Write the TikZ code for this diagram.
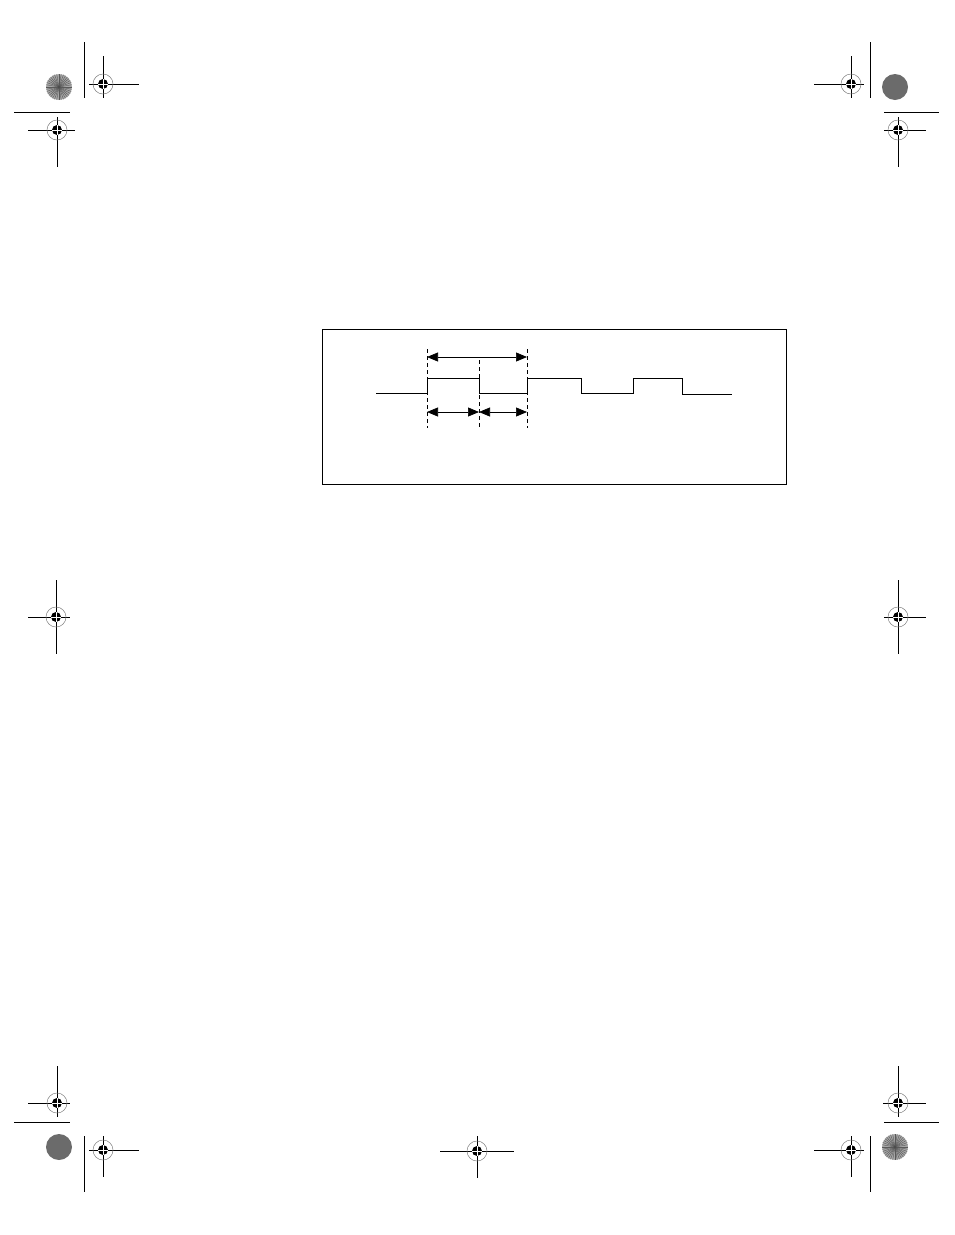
\documentclass[tikz,border=0pt]{standalone}
\usetikzlibrary{arrows.meta}
\begin{document}
\begin{tikzpicture}[x=1pt,y=-1pt,
  regline/.style={line width=0.8pt},
  guide/.style={line width=0.6pt,dash pattern=on 4pt off 3pt},
  pulse/.style={line width=1pt},
  dimline/.style={line width=0.7pt,{Triangle[length=11pt,width=9pt]}-{Triangle[length=11pt,width=9pt]}}]

\useasboundingbox (0,0) rectangle (954,1235);

% register targets
\foreach \x/\y/\l/\r/\t/\b in {103/84/89/139/56/98, 57/130/28/75/117/167,
  851/84/814/864/56/98, 898/130/884/926/117/167,
  56/617/28/70/580/654, 898/617/884/926/580/654,
  57/1103/28/70/1066/1117, 103/1150/89/139/1136/1177,
  477/1151/440/514/1136/1178, 898/1103/883/926/1066/1117,
  851/1150/814/864/1136/1177}
{
    \draw[regline] (\l,\y) -- (\r,\y);
    \draw[regline] (\x,\t) -- (\x,\b);
    \draw[gray,line width=0.5pt] (\x,\y) circle (10);
    \fill (\x,\y) circle (5);
    \draw[white,line width=0.6pt] (\x-5,\y) -- (\x+5,\y) (\x,\y-5) -- (\x,\y+5);
}

% crop lines
\foreach \a/\b/\c/\d in {84/42/84/98, 14/112/70/112, 870/42/870/98, 884/112/939/112,
  14/1122/70/1122, 84/1136/84/1192, 884/1122/939/1122, 870/1136/870/1192}
{
    \draw[regline] (\a,\b) -- (\c,\d);
}

% star targets
\foreach \x/\y in {59/87, 895/1147}
{
    \fill[black!35] (\x,\y) circle (13);
    \foreach \ang in {0,10,...,350}
        \draw[black!65,line width=0.4pt] (\x,\y) -- ++(\ang:13);
    \fill[black!70] (\x,\y) circle (1.5);
}

% gray targets
\foreach \x/\y in {895/87, 59/1147}
{
    \fill[black!58] (\x,\y) circle (13);
}

% figure frame
\draw[line width=0.8pt] (322,329) rectangle (786,484);

% pulse train
\draw[pulse] (376,393) -- (427,393) -- (427,378) -- (479,378) -- (479,393)
  -- (527,393) -- (527,378) -- (581,378) -- (581,393) -- (633,393)
  -- (633,378) -- (682,378) -- (682,394) -- (732,394);

% guides
\foreach \gx/\gy in {427/349, 479/360, 527/349}
{
    \draw[guide] (\gx,\gy) -- (\gx,428);
}

\coordinate (P0) at (427,357);
\coordinate (P1) at (527,357);
\coordinate (H0) at (427,412);
\coordinate (H1) at (479,412);
\coordinate (H2) at (527,412);

\draw[dimline] (P0) -- (P1);
\draw[dimline] (H0) -- (H1);
\draw[dimline] (H1) -- (H2);

\end{tikzpicture}
\end{document}
